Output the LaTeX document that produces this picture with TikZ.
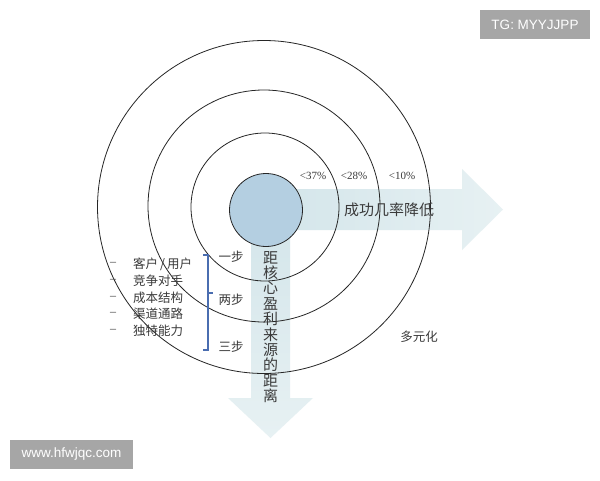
\documentclass[tikz,border=0pt]{standalone}
\usepackage{fontspec}
\setmainfont{Liberation Serif}
\newfontfamily\cjk{Noto Sans CJK SC}
\newfontfamily\wmfont{Liberation Sans}
\definecolor{arrowA}{HTML}{D3E5EA}
\definecolor{arrowB}{HTML}{E7F1F3}
\definecolor{corefill}{HTML}{B4CFE1}
\definecolor{txt}{HTML}{3A3A3A}
\definecolor{bracecol}{HTML}{4A6DB0}
\definecolor{wmgrey}{HTML}{A6A6A6}
\tikzset{
  ring/.style={circle, draw=black!85, line width=0.8pt, inner sep=0pt},
  corecircle/.style={circle, draw=black!85, fill=corefill, line width=0.8pt, inner sep=0pt, minimum size=73pt},
  bigcn/.style={text=txt, inner sep=0pt, font=\cjk\fontsize{15}{15.4}\selectfont},
  smallcn/.style={text=txt, inner sep=0pt, font=\cjk\fontsize{12.5}{14}\selectfont},
  pct/.style={text=txt, inner sep=0pt, font=\fontsize{11}{12}\selectfont},
  dashlbl/.style={text=txt, inner sep=0pt, font=\fontsize{12}{12}\selectfont},
  wmbox/.style={fill=wmgrey, text=white, inner sep=0pt, minimum height=29pt, font=\wmfont\fontsize{13.5}{14}\selectfont},
  bracestroke/.style={draw=bracecol, line width=1.2pt}
}
\begin{document}
\begin{tikzpicture}[x=1pt,y=-1pt]
\useasboundingbox (0,0) rectangle (600,480);
\fill[white] (0,0) rectangle (600,480);

% arrows
\shade[left color=arrowA, right color=arrowB]
  (266,189) -- (462,189) -- (462,169) -- (503,209.5) -- (462,250) -- (462,230) -- (266,230) -- cycle;
\shade[top color=arrowA, bottom color=arrowB]
  (251,210) -- (251,398) -- (228,398) -- (270.5,438) -- (313,398) -- (290,398) -- (290,210) -- cycle;

% rings
\node[ring, minimum size=333pt] (r3) at (264,207) {};
\node[ring, minimum size=232pt] (r2) at (264,206) {};
\node[ring, minimum size=148pt] (r1) at (265,207) {};
\node[corecircle] (core) at (266,210) {};

% percentages
\node[pct] (p37) at (313,176) {<37\%};
\node[pct] (p28) at (354,176) {<28\%};
\node[pct] (p10) at (402,176) {<10\%};

% arrow labels
\node[bigcn] (rate) at (389,210) {成功几率降低};
\node[bigcn, align=center] (dist) at (270.5,327) {距\\核\\心\\盈\\利\\来\\源\\的\\距\\离};

% steps
\node[smallcn] (s1) at (231,257) {一步};
\node[smallcn] (s2) at (231,300) {两步};
\node[smallcn] (s3) at (231,347) {三步};

% brace
\draw[bracestroke] (203,255) -- (208,255) -- (208,350) -- (203,350);
\draw[bracestroke] (208,293) -- (213,293);

% list
\foreach \yy/\lbl/\nm in {264/{客户\kern2pt/\kern2pt用户}/la, 281/竞争对手/lb, 298/成本结构/lc, 314/渠道通路/ld, 331/独特能力/le}{
  \node[dashlbl] (d\nm) at (113,\yy) {–};
  \node[smallcn, anchor=west] (\nm) at (133,\yy) {\lbl};
}

% outer label
\node[smallcn] (multi) at (419,337) {多元化};

% watermarks
\node[wmbox, minimum width=110pt] (tg) at (535,24.5) {TG: MYYJJPP};
\node[wmbox, minimum width=123pt] (www) at (71.5,454.5) {www.hfwjqc.com};
\end{tikzpicture}
\end{document}
